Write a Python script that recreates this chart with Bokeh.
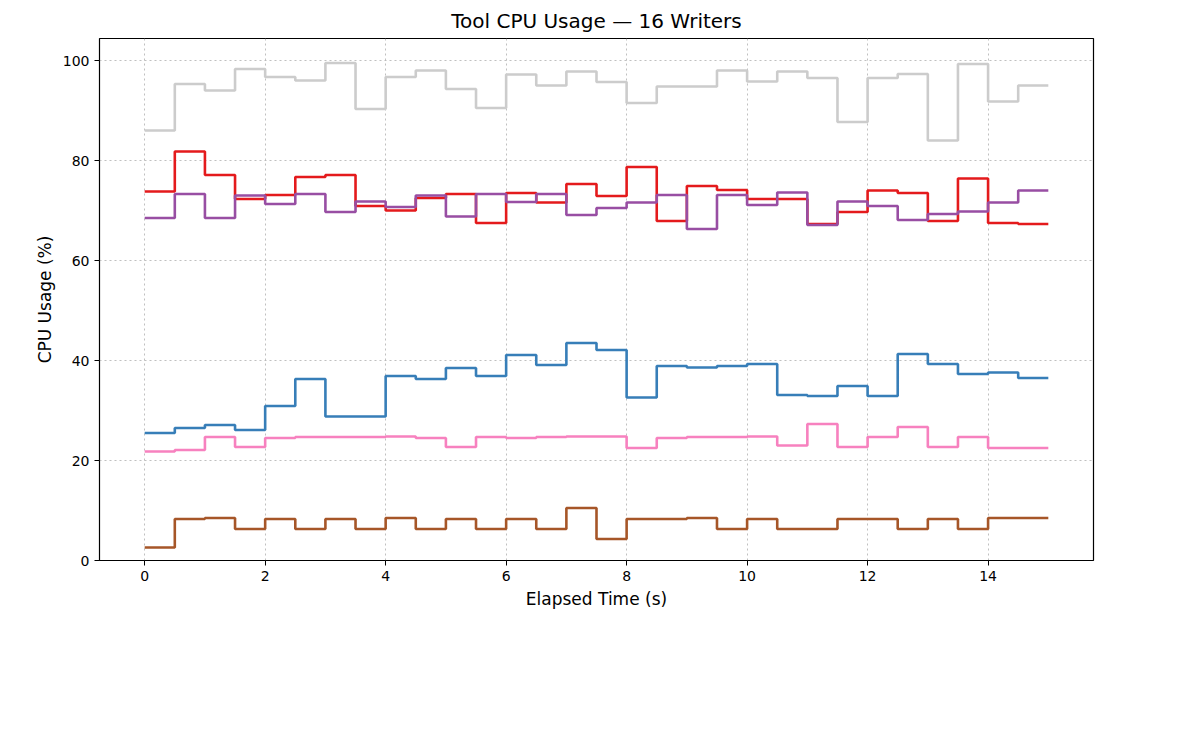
from bokeh.plotting import figure
from bokeh.models import Legend, LegendItem, Range1d, FixedTicker
from bokeh.embed import file_html
from bokeh.resources import INLINE

t = [i * 0.5 for i in range(31)]
umadb = [73.8, 81.8, 77.1, 72.3, 73.1, 76.7, 77.1, 70.9, 70.0, 72.5, 73.3, 67.5, 73.5, 71.6, 75.3,
         72.9, 78.7, 67.9, 74.9, 74.1, 72.3, 72.3, 67.3, 69.7, 74.0, 73.5, 67.9, 76.4, 67.5, 67.3]
kurrentdb = [25.5, 26.5, 27.1, 26.1, 30.9, 36.3, 28.8, 28.8, 36.9, 36.3, 38.5, 36.9, 41.1, 39.1, 43.5,
             42.1, 32.6, 38.9, 38.6, 38.9, 39.3, 33.1, 32.9, 34.9, 32.9, 41.3, 39.3, 37.3, 37.6, 36.5]
eventsourcingdb = [2.6, 8.3, 8.5, 6.3, 8.3, 6.3, 8.3, 6.3, 8.5, 6.3, 8.3, 6.3, 8.3, 6.3, 10.5,
                   4.3, 8.3, 8.3, 8.5, 6.3, 8.3, 6.3, 6.3, 8.3, 8.3, 6.3, 8.3, 6.3, 8.5, 8.5]
fact = [21.8, 22.1, 24.7, 22.7, 24.5, 24.7, 24.7, 24.7, 24.8, 24.5, 22.7, 24.7, 24.5, 24.7, 24.8,
        24.8, 22.5, 24.5, 24.7, 24.7, 24.8, 23.0, 27.3, 22.7, 24.7, 26.7, 22.7, 24.7, 22.5, 22.5]
marten = [68.5, 73.3, 68.5, 73.0, 71.3, 73.3, 69.7, 71.8, 70.7, 73.0, 68.8, 73.3, 71.7, 73.3, 69.1,
          70.5, 71.6, 73.1, 66.3, 73.1, 71.1, 73.6, 67.1, 71.8, 70.9, 68.1, 69.3, 69.8, 71.6, 74.0]
dcbdb = [86.0, 95.3, 94.0, 98.3, 96.7, 96.0, 99.5, 90.3, 96.7, 98.0, 94.3, 90.5, 97.2, 95.0, 97.8,
         95.7, 91.5, 94.8, 94.8, 98.0, 95.8, 97.8, 96.5, 87.7, 96.5, 97.3, 84.0, 99.3, 91.8, 95.0]

names = ["umadb", "kurrentdb", "eventsourcingdb", "fact", "postgres-dcb-marten", "dcbdb"]
colors = ["#e41a1c", "#377eb8", "#a65628", "#f781bf", "#984ea3", "#cccccc"]
series = [umadb, kurrentdb, eventsourcingdb, fact, marten, dcbdb]

p = figure(frame_width=994, frame_height=522, output_backend="svg", toolbar_location=None,
           title="Tool CPU Usage — 16 Writers", x_range=Range1d(-0.75, 15.75), y_range=Range1d(0, 104.4),
           min_border_left=99, min_border_right=30, min_border_top=10)
p.title.align = "center"
p.title.text_font = "DejaVu Sans"
p.title.text_font_size = "20px"
p.title.text_font_style = "normal"
p.title.text_color = "black"
p.title.standoff = 12
p.outline_line_color = "black"
p.outline_line_width = 1.2
p.outline_line_alpha = 1
for ax in (p.xaxis[0], p.yaxis[0]):
    ax.axis_label_text_font = "DejaVu Sans"
    ax.axis_label_text_font_size = "17px"
    ax.axis_label_text_font_style = "normal"
    ax.axis_label_text_color = "black"
    ax.major_label_text_font = "DejaVu Sans"
    ax.major_label_text_font_size = "14px"
    ax.major_label_text_color = "black"
    ax.minor_tick_line_color = None
    ax.axis_line_color = None
    ax.major_tick_line_color = "black"
    ax.major_tick_out = 5
    ax.major_tick_in = 0
p.xaxis.axis_label = "Elapsed Time (s)"
p.yaxis.axis_label = "CPU Usage (%)"
p.xaxis.ticker = FixedTicker(ticks=[0, 2, 4, 6, 8, 10, 12, 14])
p.yaxis.ticker = FixedTicker(ticks=[0, 20, 40, 60, 80, 100])
p.grid.grid_line_color = "#b0b0b0"
p.grid.grid_line_dash = "2 3"
p.grid.grid_line_alpha = 0.8

items = []
for n, c, s in zip(names, colors, series):
    r = p.step(t, s + [s[-1]], mode="after", line_color=c, line_width=2.6)
    items.append(LegendItem(label=n, renderers=[r]))

common = dict(orientation="horizontal", border_line_color=None, background_fill_alpha=0,
              label_text_font="DejaVu Sans", label_text_font_size="15px", glyph_width=40,
              spacing=38, label_standoff=15, margin=0, padding=2, location=(-40, 0))
leg1 = Legend(items=items[:5], **common)
leg2 = Legend(items=items[5:], **common)
p.add_layout(leg1, "below")
p.add_layout(leg2, "below")

open("out.html", "w").write(file_html(p, INLINE))
